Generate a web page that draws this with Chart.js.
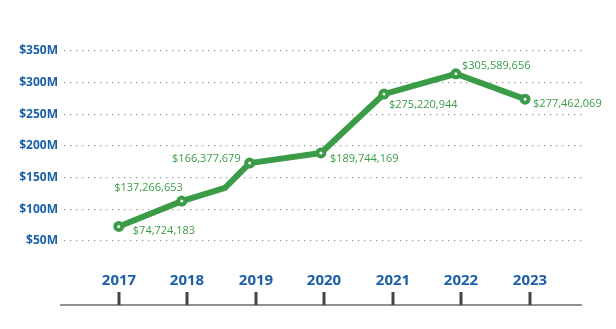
<!DOCTYPE html>
<html>
<head>
<meta charset="utf-8">
<script src="https://cdn.jsdelivr.net/npm/chart.js@4"></script>
<style>
  html, body { margin: 0; padding: 0; background: #fff; }
  #wrap { width: 616px; height: 329px; }
</style>
</head>
<body>
<div id="wrap"><canvas id="chart" width="616" height="329"></canvas></div>
<script>
// values, in $M (the kink between 2018 and 2019 has no marker)
const pointYears = [2017, 2017.92, 2018.55, 2018.91, 2019.95, 2020.87, 2021.92, 2022.93];
const revenue = [73, 113, 134, 173, 189, 282, 314, 274];
const valueLabels = ["$74,724,183", "$137,266,653", null, "$166,377,679", "$189,744,169", "$275,220,944", "$305,589,656", "$277,462,069"];
const years = [2017, 2018, 2019, 2020, 2021, 2022, 2023];
const yTicks = [50, 100, 150, 200, 250, 300, 350];

const GREEN = "#3b9c47";
const BLUE = "#1c5fa9";

// where each value label sits relative to its point
const labelPlace = [
  { dx: 14, dy: 4, align: "left" },
  { dx: 1, dy: -13, align: "right" },
  null,
  { dx: -9, dy: -4, align: "right" },
  { dx: 9, dy: 6, align: "left" },
  { dx: 5, dy: 11, align: "left" },
  { dx: 6, dy: -8, align: "left" },
  { dx: 8, dy: 5, align: "left" }
];

const valueLabelPlugin = {
  id: "valueLabels",
  afterDatasetsDraw(chart) {
    const ctx = chart.ctx;
    const meta = chart.getDatasetMeta(0);
    ctx.save();
    ctx.font = "500 11px 'Open Sans', sans-serif";
    ctx.fillStyle = GREEN;
    ctx.textBaseline = "middle";
    meta.data.forEach((pt, i) => {
      const p = labelPlace[i];
      if (!p || !valueLabels[i]) return;
      ctx.textAlign = p.align;
      ctx.fillText(valueLabels[i], pt.x + p.dx, pt.y + p.dy);
    });
    ctx.restore();
  }
};

// year labels above a baseline with small tick bars
const yearAxisPlugin = {
  id: "yearAxis",
  afterDraw(chart) {
    const ctx = chart.ctx;
    const x = chart.scales.x;
    const base = chart.chartArea.bottom + 64;
    ctx.save();
    ctx.strokeStyle = "#6b6b6b";
    ctx.lineWidth = 1.5;
    ctx.beginPath();
    ctx.moveTo(60, base);
    ctx.lineTo(582, base);
    ctx.stroke();
    ctx.font = "bold 15px 'Open Sans', sans-serif";
    ctx.textAlign = "center";
    ctx.textBaseline = "middle";
    years.forEach(y => {
      const px = Math.round(x.getPixelForValue(y));
      ctx.fillStyle = "#444";
      ctx.fillRect(px - 1.5, base - 13, 3, 13);
      ctx.fillStyle = BLUE;
      ctx.fillText(String(y), px, base - 24);
    });
    ctx.restore();
  }
};

new Chart(document.getElementById("chart"), {
  type: "line",
  data: {
    datasets: [{
      data: pointYears.map((yr, i) => ({ x: yr, y: revenue[i] })),
      borderColor: GREEN,
      borderWidth: 6,
      borderJoinStyle: "round",
      borderCapStyle: "round",
      tension: 0,
      pointRadius: valueLabels.map(l => l ? 3.5 : 0),
      pointBorderWidth: 4,
      pointBackgroundColor: "#fff",
      pointBorderColor: GREEN,
      pointHoverRadius: 0
    }]
  },
  options: {
    responsive: false,
    animation: false,
    layout: { padding: { left: 14, right: 32, top: 51, bottom: 88 } },
    plugins: { legend: { display: false }, tooltip: { enabled: false } },
    scales: {
      x: { type: "linear", display: false, min: 2016.2, max: 2023.79 },
      y: {
        min: 50, max: 350,
        afterFit: s => { s.width = 50; },
        afterBuildTicks: s => { s.ticks = yTicks.map(v => ({ value: v })); },
        border: { display: false, dash: [1.3, 4.7] },
        grid: { color: "#9a9a9a", lineWidth: 1.3, drawTicks: false },
        ticks: {
          padding: 6,
          color: BLUE,
          font: { family: "'Open Sans', sans-serif", size: 12, weight: "bold" },
          callback: v => "$" + v + "M"
        }
      }
    }
  },
  plugins: [valueLabelPlugin, yearAxisPlugin]
});
</script>
</body>
</html>
